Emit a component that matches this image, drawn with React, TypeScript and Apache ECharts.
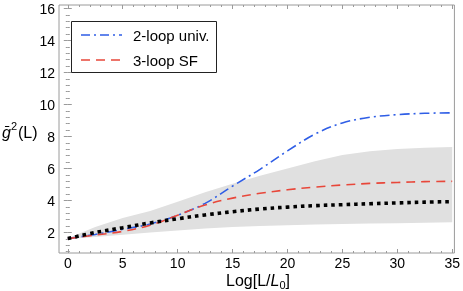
import React, { useEffect, useRef } from "react";
import * as echarts from "echarts";

const xs = [0, 2.5, 5, 7.5, 10, 12.5, 15, 17.5, 20, 22.5, 25, 27.5, 30, 32.5, 35];
const twoLoopUniv = [1.62, 1.88, 2.2, 2.53, 3.08, 3.82, 4.9, 5.95, 7.1, 8.15, 8.85, 9.2, 9.37, 9.45, 9.48];
const threeLoopSF = [1.62, 1.84, 2.07, 2.46, 3.08, 3.72, 4.15, 4.45, 4.67, 4.84, 4.97, 5.07, 5.13, 5.18, 5.2];
const central = [1.62, 2.0, 2.3, 2.6, 2.86, 3.1, 3.3, 3.47, 3.59, 3.68, 3.74, 3.8, 3.85, 3.9, 3.93];
const bandUpper = [1.64, 2.35, 2.9, 3.35, 3.92, 4.52, 5.05, 5.55, 6.0, 6.45, 6.85, 7.08, 7.22, 7.3, 7.35];
const bandLower = [1.6, 1.72, 1.86, 2.0, 2.13, 2.25, 2.34, 2.41, 2.46, 2.5, 2.53, 2.56, 2.58, 2.61, 2.64];

const xMajor = [0, 5, 10, 15, 20, 25, 30, 35];
const yMajor = [2, 4, 6, 8, 10, 12, 14, 16];
const legendNames = ["2-loop univ.", "3-loop SF"];

const X_MIN = -0.8, X_MAX = 35.2, Y_MIN = 0.72, Y_MAX = 16.22;
const FONT = "Liberation Sans, Arial, Helvetica, sans-serif";
const GRAY = "#9a9a9a";
const BLUE = "#2f5ee6";
const RED = "#e8473a";

export default function App() {
  const ref = useRef<HTMLDivElement>(null);
  useEffect(() => {
    const chart = echarts.init(ref.current!, null, { renderer: "svg" });
    const xMinor: number[] = [];
    for (let v = 0; v <= 35; v += 1) if (v % 5 !== 0) xMinor.push(v);
    const yMinor: number[] = [];
    for (let k = 2; k <= 40; k++) {
      const v = Math.round(k * 0.4 * 10) / 10;
      if (Math.abs(v / 2 - Math.round(v / 2)) > 1e-6) yMinor.push(v);
    }
    const baseX = { type: "value", min: X_MIN, max: X_MAX, splitLine: { show: false }, axisLine: { show: false } };
    const baseY = { type: "value", min: Y_MIN, max: Y_MAX, splitLine: { show: false }, axisLine: { show: false } };
    const tick = (vals: number[], len: number) => ({
      show: true, inside: true, length: len, customValues: vals, lineStyle: { color: GRAY, width: 1 },
    });
    const noLabel = { show: false };
    const lineCommon = { symbol: "none", smooth: 0.35 };
    const option: any = {
      animation: false,
      grid: { left: 59, right: 6, top: 5, bottom: 38, show: true, borderColor: GRAY, borderWidth: 1, backgroundColor: "transparent" },
      xAxis: [
        { ...baseX, position: "bottom", axisTick: tick(xMajor, 4), axisLabel: { show: true, customValues: xMajor, margin: 3, fontSize: 14, lineHeight: 14, color: "#000", fontFamily: FONT } },
        { ...baseX, position: "bottom", axisTick: tick(xMinor, 2), axisLabel: noLabel },
        { ...baseX, position: "top", axisTick: tick(xMajor, 4), axisLabel: noLabel },
        { ...baseX, position: "top", axisTick: tick(xMinor, 2), axisLabel: noLabel },
      ],
      yAxis: [
        { ...baseY, position: "left", axisTick: tick(yMajor, 4), axisLabel: { show: true, customValues: yMajor, margin: 4, fontSize: 14, color: "#000", fontFamily: FONT } },
        { ...baseY, position: "left", axisTick: tick(yMinor, 2), axisLabel: noLabel },
        { ...baseY, position: "right", axisTick: tick(yMajor, 4), axisLabel: noLabel },
        { ...baseY, position: "right", axisTick: tick(yMinor, 2), axisLabel: noLabel },
      ],
      series: [
        {
          type: "custom",
          name: "band",
          silent: true,
          clip: true,
          z: 1,
          data: [[0, 0]],
          renderItem: (_params: any, api: any) => {
            const pts: number[][] = [];
            for (let i = 0; i < xs.length; i++) pts.push(api.coord([xs[i], bandUpper[i]]));
            for (let i = xs.length - 1; i >= 0; i--) pts.push(api.coord([xs[i], bandLower[i]]));
            return { type: "polygon", shape: { points: pts }, style: { fill: "#e0e0e0", stroke: "none" } };
          },
        },
        {
          type: "line", name: legendNames[0], z: 3, ...lineCommon,
          data: xs.map((x, i) => [x, twoLoopUniv[i]]),
          lineStyle: { color: BLUE, width: 1.6, type: [10, 4, 2, 4] },
        },
        {
          type: "line", name: legendNames[1], z: 3, ...lineCommon,
          data: xs.map((x, i) => [x, threeLoopSF[i]]),
          lineStyle: { color: RED, width: 1.6, type: [9, 6] },
        },
        {
          type: "line", name: "central", z: 4, ...lineCommon,
          data: xs.map((x, i) => [x, central[i]]),
          lineStyle: { color: "#000", width: 3.6, type: [3.6, 4], cap: "butt" },
        },
      ],
      graphic: [
        { type: "rect", shape: { x: 71.5, y: 21.5, width: 145, height: 51 }, style: { fill: "#fff", stroke: "#222", lineWidth: 1 }, z: 10 },
        { type: "line", shape: { x1: 81, y1: 35, x2: 122, y2: 35 }, style: { stroke: BLUE, lineWidth: 1.6, lineDash: [9, 4, 2, 4] }, z: 11 },
        { type: "line", shape: { x1: 81, y1: 60, x2: 122, y2: 60 }, style: { stroke: RED, lineWidth: 1.6, lineDash: [9, 6] }, z: 11 },
        { type: "text", x: 133, y: 35, style: { text: legendNames[0], fontSize: 15, fontFamily: FONT, fill: "#000", verticalAlign: "middle" }, z: 11 },
        { type: "text", x: 133, y: 60, style: { text: legendNames[1], fontSize: 15, fontFamily: FONT, fill: "#000", verticalAlign: "middle" }, z: 11 },
        {
          type: "text", x: 2, y: 130,
          style: {
            text: "{g|ḡ}{s|2}{n|(L)}", verticalAlign: "middle", fill: "#000",
            rich: {
              g: { fontSize: 16, fontStyle: "italic", fontFamily: FONT, lineHeight: 20, verticalAlign: "bottom" },
              s: { fontSize: 11, fontFamily: FONT, lineHeight: 20, verticalAlign: "top", padding: [0, 1, 0, 0] },
              n: { fontSize: 16, fontFamily: FONT, lineHeight: 20, verticalAlign: "bottom" },
            },
          },
        },
        {
          type: "text", x: 258, y: 281,
          style: {
            text: "{a|Log[L/}{i|L}{b|0}{a|]}", align: "center", verticalAlign: "middle", fill: "#000",
            rich: {
              a: { fontSize: 16, fontFamily: FONT, lineHeight: 18, verticalAlign: "top" },
              i: { fontSize: 16, fontFamily: FONT, fontStyle: "italic", lineHeight: 18, verticalAlign: "top" },
              b: { fontSize: 11, fontFamily: FONT, lineHeight: 18, verticalAlign: "bottom" },
            },
          },
        },
      ],
    };
    chart.setOption(option);
    return () => chart.dispose();
  }, []);
  return <div ref={ref} style={{ position: "fixed", left: 0, top: 0, width: 463, height: 291 }} />;
}
